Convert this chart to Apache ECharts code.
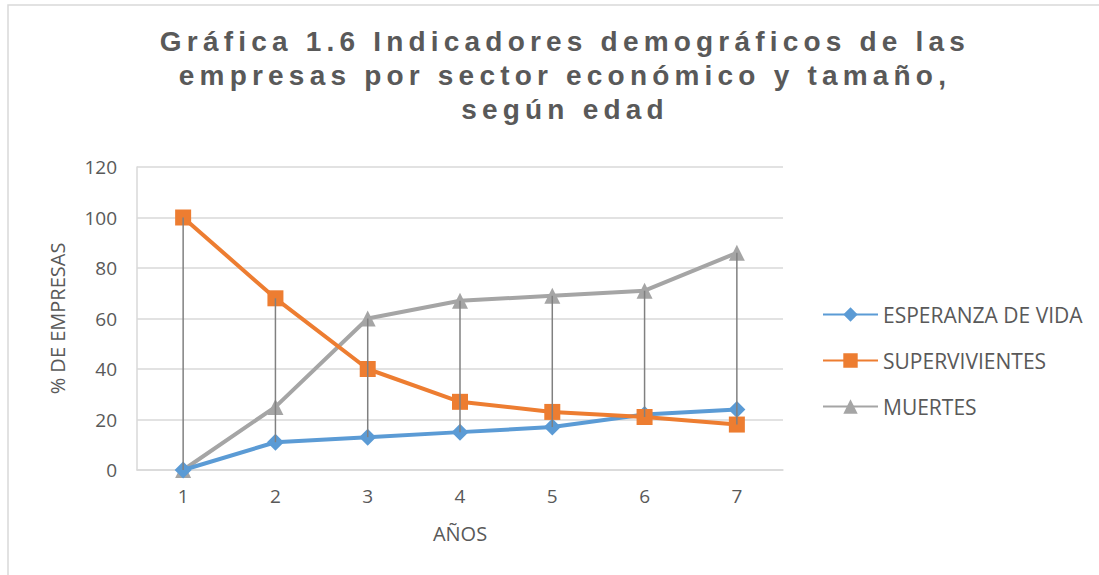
<!DOCTYPE html>
<html>
<head>
<meta charset="utf-8">
<script src="https://cdn.jsdelivr.net/npm/echarts@6/dist/echarts.min.js"></script>
<style>
  html, body { margin: 0; padding: 0; background: #ffffff; }
  #chart { width: 1099px; height: 575px; }
  #chart text[style*="Liberation"], #chart text[font-family*="Liberation"] { letter-spacing: 5.2px; }
</style>
</head>
<body>
<div id="chart"></div>
<script>
const categories = ['1', '2', '3', '4', '5', '6', '7'];
const esperanzaDeVida = [0, 11, 13, 15, 17, 22, 24];
const supervivientes = [100, 68, 40, 27, 23, 21, 18];
const muertes = [0, 25, 60, 67, 69, 71, 86];
const yTicks = [0, 20, 40, 60, 80, 100, 120];
const seriesNames = ['ESPERANZA DE VIDA', 'SUPERVIVIENTES', 'MUERTES'];
const titleText = 'Gráfica 1.6 Indicadores demográficos de las\nempresas por sector económico y tamaño,\nsegún edad';

const allSeries = [esperanzaDeVida, supervivientes, muertes];
const dropLines = categories.map((c, i) => {
  const vals = allSeries.map(s => s[i]);
  return [i, Math.max.apply(null, vals), Math.min.apply(null, vals)];
});

const chart = echarts.init(document.getElementById('chart'), null, { renderer: 'svg' });
const font = 'Open Sans';
const textColor = '#595959';

chart.setOption({
  animation: false,
  backgroundColor: '#ffffff',
  graphic: [{
    type: 'rect',
    shape: { x: 8, y: 5, width: 1200, height: 700 },
    style: { fill: 'none', stroke: '#d9d9d9', lineWidth: 1.5 },
    silent: true
  }],
  title: {
    text: titleText,
    left: 560,
    textAlign: 'center',
    top: 19,
    textStyle: {
      fontFamily: 'Liberation Sans',
      fontWeight: 'bold',
      fontSize: 28,
      lineHeight: 34,
      color: textColor
    }
  },
  legend: {
    data: seriesNames,
    orient: 'vertical',
    left: 817,
    top: 299,
    itemWidth: 55,
    itemHeight: 18,
    itemGap: 25,
    textStyle: { fontFamily: font, fontSize: 21, lineHeight: 18, color: textColor }
  },
  grid: { left: 137, right: 316, top: 167, bottom: 105 },
  xAxis: {
    type: 'category',
    data: categories,
    boundaryGap: true,
    name: 'AÑOS',
    nameLocation: 'middle',
    nameGap: 53,
    nameTextStyle: { fontFamily: font, fontSize: 20, color: textColor },
    axisLine: { show: true, lineStyle: { color: '#d9d9d9', width: 1.5 } },
    axisTick: { show: false },
    axisLabel: { fontFamily: font, fontSize: 19, color: textColor, margin: 16 },
    splitLine: { show: false }
  },
  yAxis: {
    type: 'value',
    min: yTicks[0],
    max: yTicks[yTicks.length - 1],
    interval: 20,
    name: '% DE EMPRESAS',
    nameLocation: 'middle',
    nameGap: 70,
    nameRotate: 90,
    nameTextStyle: { fontFamily: font, fontSize: 20, color: textColor },
    axisLine: { show: true, lineStyle: { color: '#d9d9d9', width: 1.5 } },
    axisTick: { show: false },
    axisLabel: { fontFamily: font, fontSize: 19, color: textColor, margin: 20 },
    splitLine: { show: true, lineStyle: { color: '#d9d9d9', width: 1.5 } }
  },
  series: [
    {
      name: seriesNames[0], type: 'line', data: esperanzaDeVida,
      symbol: 'diamond', symbolSize: 17,
      lineStyle: { color: '#5B9BD5', width: 4 },
      itemStyle: { color: '#5B9BD5' }, z: 2
    },
    {
      name: seriesNames[1], type: 'line', data: supervivientes,
      symbol: 'rect', symbolSize: 16,
      lineStyle: { color: '#ED7D31', width: 4 },
      itemStyle: { color: '#ED7D31' }, z: 3
    },
    {
      name: seriesNames[2], type: 'line', data: muertes,
      symbol: 'triangle', symbolSize: 16,
      lineStyle: { color: '#A5A5A5', width: 4 },
      itemStyle: { color: '#A5A5A5' }, z: 1
    },
    {
      name: 'drop', type: 'custom', data: dropLines, z: 10,
      encode: { x: 0, y: [1, 2] },
      renderItem: function (params, api) {
        const p1 = api.coord([api.value(0), api.value(1)]);
        const p2 = api.coord([api.value(0), api.value(2)]);
        return {
          type: 'line',
          shape: { x1: p1[0], y1: p1[1], x2: p2[0], y2: p2[1] },
          style: { stroke: '#808080', lineWidth: 1.5 }
        };
      }
    }
  ]
});
</script>
</body>
</html>
